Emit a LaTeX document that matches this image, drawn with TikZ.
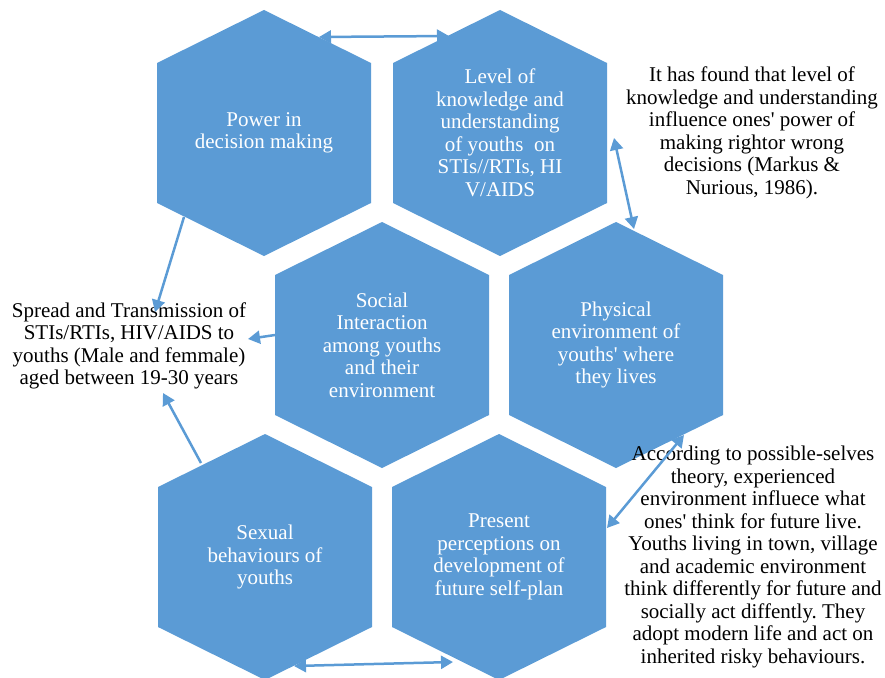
\documentclass[tikz,border=0pt]{standalone}
\usepackage{fontspec}
\setmainfont{Liberation Serif}
\frenchspacing
\usetikzlibrary{arrows.meta}
\definecolor{hexblue}{HTML}{5B9BD5}
\tikzset{
  every picture/.style={x=1pt, y=-1pt},
  hexfill/.style={fill=hexblue},
  hextext/.style={text=white, align=center, inner sep=0pt, font=\fontsize{21}{22.5}\selectfont},
  note/.style={text=black, align=center, inner sep=0pt, font=\fontsize{21}{22.5}\selectfont},
  link/.style={-{Triangle[length=12pt, width=13pt]}, draw=hexblue, line width=2.5pt},
  twolink/.style={{Triangle[length=12pt, width=13pt]}-{Triangle[length=12pt, width=13pt]}, draw=hexblue, line width=2.5pt},
}

\begin{document}
\begin{tikzpicture}
  \useasboundingbox (0,0) rectangle (885,677);
  % honeycomb: six pointy-top hexagons with their texts
  \foreach \n/\x/\y/\t in {
      power/264/133/{Power in\\decision making},
      know/500/133/{Level of\\knowledge and\\understanding\\of youths\ \ on\\STIs//RTIs, HI\\V/AIDS},
      social/382/345/{Social\\Interaction\\among youths\\and their\\environment},
      phys/616/345/{Physical\\environment of\\youths\textquotesingle{} where\\they lives},
      sexual/265/557/{Sexual\\behaviours of\\youths},
      present/499/557/{Present\\perceptions on\\development of\\future self-plan}} {
    \fill[hexfill] (\x,\y) ++(0,-123) -- ++(107,53) -- ++(0,140) -- ++(-107,53) -- ++(-107,-53) -- ++(0,-140) -- cycle;
    \node[hextext] (\n) at (\x,\y) {\t};
  }
  % texts outside the honeycomb
  \node[note] (spread) at (129,346) {Spread and Transmission of\\STIs/RTIs, HIV/AIDS to\\youths (Male and femmale)\\aged between 19-30 years};
  \node[note] (markus) at (752,133) {It has found that level of\\knowledge and understanding\\influence ones\textquotesingle{} power of\\making rightor wrong\\decisions (Markus \&\\Nurious, 1986).};
  \node[note] (selves) at (753,557) {According to possible-selves\\theory, experienced\\environment influece what\\ones\textquotesingle{} think for future live.\\Youths living in town, village\\and academic environment\\think differently for future and\\socially act diffently. They\\adopt modern life and act on\\inherited risky behaviours.};
  % arrow ends
  \coordinate (power-out) at (184,217);
  \coordinate (spread-in1) at (155,312);
  \coordinate (social-out) at (275,335);
  \coordinate (spread-in2) at (248,339);
  \coordinate (sexual-out) at (201,463);
  \coordinate (spread-in3) at (163,393);
  \coordinate (power-top) at (319,37);
  \coordinate (know-top) at (449,36);
  \coordinate (know-side) at (614,138);
  \coordinate (phys-top) at (634,229);
  \coordinate (phys-low) at (684,435);
  \coordinate (present-side) at (607,528);
  \coordinate (sexual-low) at (294,666);
  \coordinate (present-low) at (453,662);
  % connectors
  \draw[link] (power-out) -- (spread-in1);
  \draw[link] (social-out) -- (spread-in2);
  \draw[link] (sexual-out) -- (spread-in3);
  \draw[twolink] (power-top) -- (know-top);
  \draw[twolink] (know-side) -- (phys-top);
  \draw[twolink] (phys-low) -- (present-side);
  \draw[twolink] (sexual-low) -- (present-low);
\end{tikzpicture}
\end{document}
